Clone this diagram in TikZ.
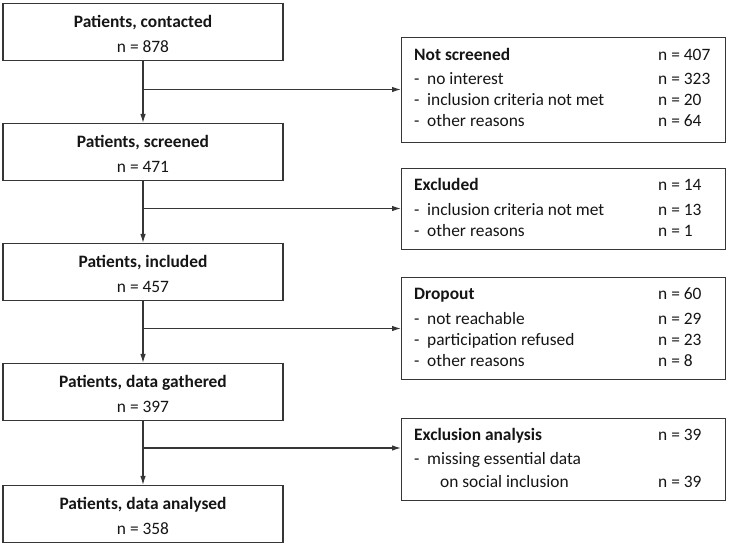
\documentclass[tikz,border=0pt]{standalone}
\usepackage{fontspec}
\setmainfont{Carlito}
\usetikzlibrary{arrows.meta}
\definecolor{linec}{HTML}{363636}
\definecolor{txtc}{HTML}{151515}
\begin{document}
\begin{tikzpicture}[x=1pt,y=-1pt,
  font=\fontsize{17.4}{20}\selectfont, text=txtc,
  lbox/.style={draw=linec,line width=1.2pt,rectangle,minimum width=280pt,minimum height=57pt,inner sep=0pt,anchor=north},
  rbox/.style={draw=linec,line width=1.2pt,rectangle,minimum width=324pt,inner sep=0pt,anchor=north west},
  tx/.style={anchor=base,inner sep=0pt},
  tl/.style={anchor=base west,inner sep=0pt},
  flow/.style={draw=linec,line width=1.2pt,-{Latex[length=9pt,width=5.5pt]}},
  plain/.style={draw=linec,line width=1.2pt}]
\useasboundingbox (0,0) rectangle (732,545);
% left boxes
\node[lbox] (b1) at (143,3) {};
\node[lbox] (b2) at (143,123) {};
\node[lbox] (b3) at (143,243) {};
\node[lbox] (b4) at (143,363) {};
\node[lbox] (b5) at (143,485) {};
\node[tx] (b1t) at (143,27.3) {\bfseries Patients, contacted};
\node[tx] (b1n) at (143,52.3) {n = 878};
\node[tx] (b2t) at (143,147.5) {\bfseries Patients, screened};
\node[tx] (b2n) at (143,172.3) {n = 471};
\node[tx] (b3t) at (143,267.5) {\bfseries Patients, included};
\node[tx] (b3n) at (143,292.3) {n = 457};
\node[tx] (b4t) at (143,387.5) {\bfseries Patients, data gathered};
\node[tx] (b4n) at (143,412.3) {n = 397};
\node[tx] (b5t) at (143,509.5) {\bfseries Patients, data analysed};
\node[tx] (b5n) at (143,534.3) {n = 358};
% right boxes
\node[rbox,minimum height=105pt] (ns) at (401,37) {};
\node[rbox,minimum height=81pt] (ex) at (401,168) {};
\node[rbox,minimum height=102pt] (dr) at (401,277) {};
\node[rbox,minimum height=82pt] (ea) at (401,418) {};
% Not screened
\node[tl] (ns0) at (414,61) {\bfseries Not screened};
\node[tl] (ns0n) at (658,61) {n = 407};
\node[tl] (ns1) at (414,85) {\makebox[13pt][l]{-}no interest};
\node[tl] (ns1n) at (658,85) {n = 323};
\node[tl] (ns2) at (414,106) {\makebox[13pt][l]{-}inclusion criteria not met};
\node[tl] (ns2n) at (658,106) {n = 20};
\node[tl] (ns3) at (414,127) {\makebox[13pt][l]{-}other reasons};
\node[tl] (ns3n) at (658,127) {n = 64};
% Excluded
\node[tl] (ex0) at (414,191) {\bfseries Excluded};
\node[tl] (ex0n) at (658,191) {n = 14};
\node[tl] (ex1) at (414,216) {\makebox[13pt][l]{-}inclusion criteria not met};
\node[tl] (ex1n) at (658,216) {n = 13};
\node[tl] (ex2) at (414,237) {\makebox[13pt][l]{-}other reasons};
\node[tl] (ex2n) at (658,237) {n = 1};
% Dropout
\node[tl] (dr0) at (414,300) {\bfseries Dropout};
\node[tl] (dr0n) at (658,300) {n = 60};
\node[tl] (dr1) at (414,325) {\makebox[13pt][l]{-}not reachable};
\node[tl] (dr1n) at (658,325) {n = 29};
\node[tl] (dr2) at (414,346) {\makebox[13pt][l]{-}participation refused};
\node[tl] (dr2n) at (658,346) {n = 23};
\node[tl] (dr3) at (414,367) {\makebox[13pt][l]{-}other reasons};
\node[tl] (dr3n) at (658,367) {n = 8};
% Exclusion analysis
\node[tl] (ea0) at (414,441) {\bfseries Exclusion analysis};
\node[tl] (ea0n) at (658,441) {n = 39};
\node[tl] (ea1) at (414,465) {\makebox[13pt][l]{-}missing essential data};
\node[tl] (ea2) at (440,488) {on social inclusion};
\node[tl] (ea2n) at (658,488) {n = 39};
% branch points
\coordinate (c1) at (143,89.5);
\coordinate (c2) at (143,208.5);
\coordinate (c3) at (143,328.5);
\coordinate (c4) at (143,448);
% connectors
\draw[flow] (b1.south) -- (b2.north);
\draw[flow] (b2.south) -- (b3.north);
\draw[flow] (b3.south) -- (b4.north);
\draw[flow] (b4.south) -- (b5.north);
\draw[flow] (c1) -- (c1 -| ns.west);
\draw[flow] (c2) -- (c2 -| ex.west);
\draw[flow] (c3) -- (c3 -| dr.west);
\draw[flow] (c4) -- (c4 -| ea.west);
\end{tikzpicture}
\end{document}
